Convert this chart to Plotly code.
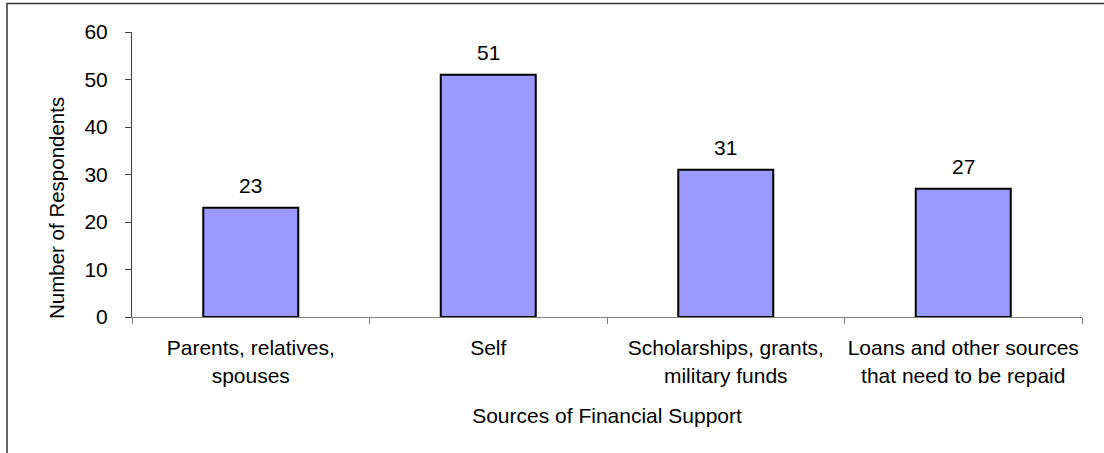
import plotly.graph_objects as go

categories = ["Parents, relatives,<br>spouses", "Self", "Scholarships, grants,<br>military funds",
              "Loans and other sources<br>that need to be repaid"]
values = [23, 51, 31, 27]
y_ticks = [0, 10, 20, 30, 40, 50, 60]
y_title = "Number of Respondents"
x_title = "Sources of Financial Support"

FONT = "Liberation Sans, Arial, sans-serif"
FS = 21

fig = go.Figure(go.Bar(
    x=categories, y=values, width=0.4,
    marker=dict(color="#9999FF", line=dict(color="black", width=2)),
    cliponaxis=False, hoverinfo="skip",
))
for c, v in zip(categories, values):
    fig.add_annotation(x=c, y=v, text=str(v), showarrow=False, yanchor="bottom",
                       yshift=9, font=dict(size=FS, color="black", family=FONT))

# y-axis title placed like the original (lower than plot-centre)
fig.add_annotation(xref="paper", yref="paper", x=(57 - 132) / 950, y=(317 - 208) / 285,
                   text=y_title, textangle=-90, showarrow=False,
                   xanchor="center", yanchor="middle",
                   font=dict(size=20.5, color="black", family=FONT))

fig.update_layout(
    width=1104, height=453,
    margin=dict(l=132, r=22, t=32, b=136),
    paper_bgcolor="white", plot_bgcolor="white",
    font=dict(family=FONT, size=FS, color="black"),
    showlegend=False,
    bargap=0.6,
)
fig.update_yaxes(
    range=[0, 60], tickvals=y_ticks, ticks="outside", ticklen=6, tickcolor="#404040",
    showline=True, linecolor="#404040", linewidth=1, showgrid=False, zeroline=False,
    ticklabelstandoff=13, automargin=False,
)
fig.update_xaxes(
    range=[-0.5, 3.5], ticks="outside", ticklen=6, tickson="boundaries", tickcolor="#808080",
    showline=True, linecolor="#808080", linewidth=1, showgrid=False, tickangle=0,
    ticklabelstandoff=12, automargin=False,
    title=dict(text=x_title, font=dict(size=FS), standoff=22),
)
fig.add_shape(type="rect", xref="paper", yref="paper",
              x0=(7 - 132) / 950, x1=(1110 - 132) / 950,
              y0=(317 - 460) / 285, y1=(317 - 3.5) / 285,
              line=dict(color="#333333", width=1.5), fillcolor="rgba(0,0,0,0)", layer="below")

fig.write_html("out.html", config={"displayModeBar": False},
               post_script="document.body.style.margin='0';document.body.style.padding='0';")
